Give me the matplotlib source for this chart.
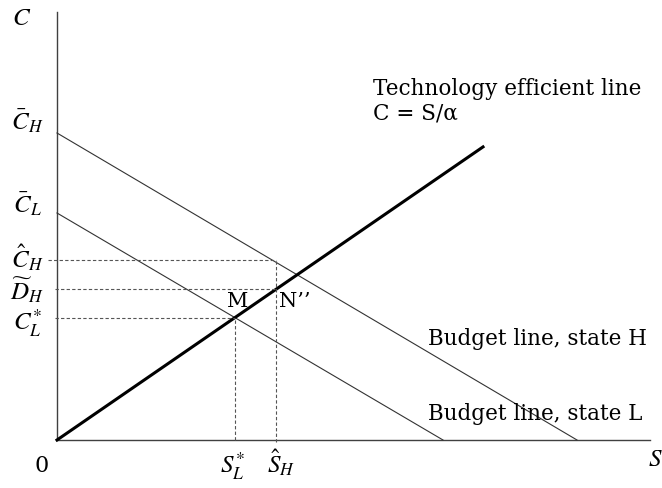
import numpy as np
import matplotlib
matplotlib.use("Agg")
import matplotlib.pyplot as plt

plt.rcParams["font.family"] = ["DejaVu Serif"]
plt.rcParams["mathtext.fontset"] = "stix"

# 축 길이 (data units, 1 unit = 100 px)
X_MAX, Y_MAX = 5.93, 4.28

# 예산선: (C 절편, S 절편)
budget_names = ["H", "L"]
budget_c0 = [3.07, 2.27]
budget_s0 = [5.20, 3.86]

# 기술 효율선 C = S/alpha
inv_alpha = 0.688
tech_s_end = 4.26

# 점선 표시 위치
s_L_star = 1.78   # M
s_H_hat = 2.19
c_L_star = 1.22
d_H_tilde = 1.51
c_H_hat = 1.80

# 세로축 라벨 (기준선 위치)
y_label_pos = [3.10, 2.27, 1.72, 1.40, 1.10]
y_labels = [r"$\bar{C}_H$", r"$\bar{C}_L$", r"$\hat{C}_H$",
            r"$\widetilde{D}_H$", r"$C_L^{*}$"]
x_label_pos = [1.75, 2.24]
x_labels = [r"$S_L^{*}$", r"$\hat{S}_H$"]

fig = plt.figure(figsize=(6.62, 4.88), dpi=100)
ax = fig.add_axes([0, 0, 1, 1])
ax.set_xlim(-0.57, 6.05)
ax.set_ylim(-0.48, 4.40)
ax.axis("off")

# 축
ax.plot([0, 0], [0, Y_MAX], color="#404040", lw=1.0)
ax.plot([0, X_MAX], [0, 0], color="#404040", lw=1.0)

# 예산선
for c0, s0 in zip(budget_c0, budget_s0):
    ax.plot([0, s0], [c0, 0], color="#333333", lw=0.8)

# 기술선
s = np.array([0, tech_s_end])
ax.plot(s, s * inv_alpha, color="black", lw=2.2)

# 점선
dash = dict(color="#555555", lw=0.8, ls=(0, (3, 2)))
ax.plot([-0.09, s_H_hat], [c_H_hat, c_H_hat], **dash)
ax.plot([-0.02, s_H_hat], [d_H_tilde, d_H_tilde], **dash)
ax.plot([-0.02, s_L_star], [c_L_star, c_L_star], **dash)
ax.plot([s_L_star, s_L_star], [0, c_L_star], **dash)
ax.plot([s_H_hat, s_H_hat], [-0.02, c_H_hat], **dash)

# 축 라벨
for y, lab in zip(y_label_pos, y_labels):
    ax.text(-0.30, y, lab, fontsize=18, ha="center", va="baseline")
for x, lab in zip(x_label_pos, x_labels):
    ax.text(x, -0.33, lab, fontsize=18, ha="center", va="baseline")
ax.text(-0.35, 4.22, r"$C$", fontsize=18, ha="center", va="center")
ax.text(5.98, -0.20, r"$S$", fontsize=18, ha="center", va="center")
ax.text(-0.15, -0.26, "0", fontsize=16, ha="center", va="center")

# 점 라벨
ax.text(1.81, 1.33, "M", fontsize=15, ha="center", va="baseline")
ax.text(2.38, 1.33, "N\u2019\u2019", fontsize=15, ha="center", va="baseline")

# 설명 텍스트
ax.text(3.16, 3.45, "Technology efficient line", fontsize=15.5, ha="left", va="baseline")
ax.text(3.16, 3.20, "C = S/\u03b1", fontsize=15.5, ha="left", va="baseline")
ax.text(3.71, 0.95, "Budget line, state H", fontsize=15.5, ha="left", va="baseline")
ax.text(3.71, 0.20, "Budget line, state L", fontsize=15.5, ha="left", va="baseline")

fig.savefig("out.png", dpi=100)
